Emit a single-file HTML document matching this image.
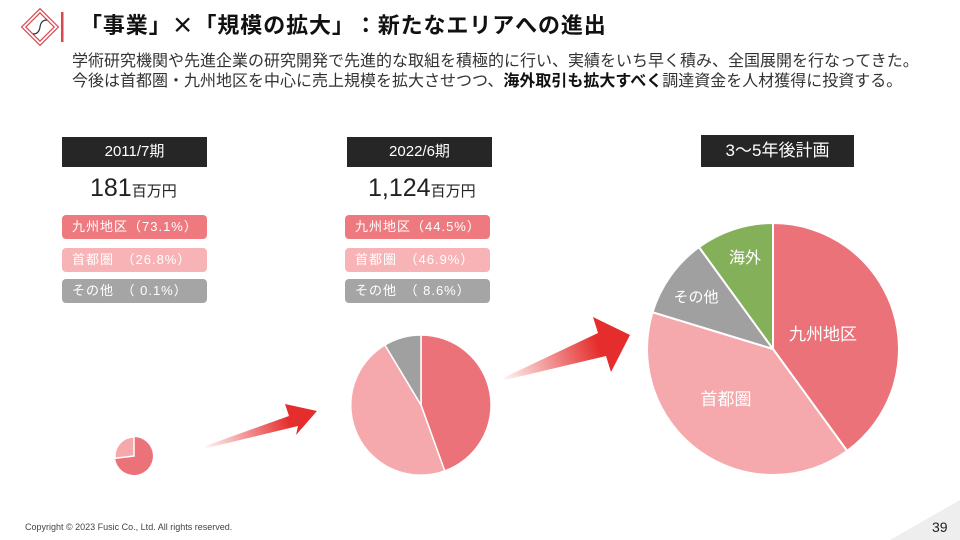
<!DOCTYPE html>
<html><head><meta charset="utf-8"><style>
body{margin:0;width:960px;height:540px;background:#fff;position:relative;overflow:hidden;font-family:"Liberation Sans","Noto Sans CJK JP",sans-serif;}
.a{position:absolute;white-space:nowrap}
.head{position:absolute;background:#262626;color:#fff;text-align:center;font-size:15px;line-height:30px;height:30px}
.pill{position:absolute;width:145px;height:24px;border-radius:4px;color:#fff;font-size:13px;line-height:24px;padding-left:10px;box-sizing:border-box;letter-spacing:1px}
.k{background:#ee7a80}.s{background:#f7b3b6}.o{background:#a5a5a5}
.amt{position:absolute;font-size:25px;color:#222}
.amt span{font-size:15px}
</style></head><body>
<svg class="a" style="left:0;top:0" width="960" height="540">
<g transform="translate(40,27) rotate(45)" fill="none" stroke="#d9474f" stroke-width="1.2"><rect x="-10" y="-10" width="20" height="20"/><rect x="-13" y="-13" width="26" height="26"/></g>
<path d="M33 34 q6 0 7-7 q1-7 7-7" stroke="#333" fill="none" stroke-width="1.2"/>
<rect x="61" y="12" width="2.5" height="30" fill="#d9474f"/>
<polygon points="890,540 960,500 960,540" fill="#eee"/>
<path d="M134 456 L134 437 A19 19 0 1 1 115.1 458.3 Z" fill="#ec7279"/>
<path d="M134 456 L115.1 458.3 A19 19 0 0 1 134 437 Z" fill="#f5a9ad" stroke="#fff" stroke-width="1.5"/>
<path d="M421 405 L421 335 A70 70 0 0 1 444.7 470.9 Z" fill="#ec7279" stroke="#fff" stroke-width="1.5"/>
<path d="M421 405 L444.7 470.9 A70 70 0 0 1 384.9 345 Z" fill="#f5a9ad" stroke="#fff" stroke-width="1.5"/>
<path d="M421 405 L384.9 345 A70 70 0 0 1 421 335 Z" fill="#a0a0a0" stroke="#fff" stroke-width="1.5"/>
<path d="M773 349 L773 223 A126 126 0 0 1 847.1 450.9 Z" fill="#ec7279" stroke="#fff" stroke-width="2"/>
<path d="M773 349 L847.1 450.9 A126 126 0 0 1 652.5 312.2 Z" fill="#f5a9ad" stroke="#fff" stroke-width="2"/>
<path d="M773 349 L652.5 312.2 A126 126 0 0 1 699 247.1 Z" fill="#a0a0a0" stroke="#fff" stroke-width="2"/>
<path d="M773 349 L699 247.1 A126 126 0 0 1 773 223 Z" fill="#84b05a" stroke="#fff" stroke-width="2"/>
<defs>
<linearGradient id="g1" x1="205" y1="446" x2="317" y2="411" gradientUnits="userSpaceOnUse"><stop offset="0" stop-color="#e52d2d" stop-opacity="0.05"/><stop offset="0.75" stop-color="#e52d2d"/></linearGradient>
<linearGradient id="g2" x1="503" y1="378" x2="630" y2="335" gradientUnits="userSpaceOnUse"><stop offset="0" stop-color="#e52d2d" stop-opacity="0.05"/><stop offset="0.75" stop-color="#e52d2d"/></linearGradient>
</defs>
<polygon points="205,446 289,416 285,404 317,411 296,435 298,426 207,448" fill="url(#g1)"/>
<polygon points="503,378 598,333 593,317 630,335 611,372 606,356 505,380" fill="url(#g2)"/>
<text x="823" y="340" font-size="17" fill="#fff" text-anchor="middle" font-family="Liberation Sans, Noto Sans CJK JP, sans-serif">九州地区</text>
<text x="726" y="405" font-size="17" fill="#fff" text-anchor="middle" font-family="Liberation Sans, Noto Sans CJK JP, sans-serif">首都圏</text>
<text x="696" y="302" font-size="15" fill="#fff" text-anchor="middle" font-family="Liberation Sans, Noto Sans CJK JP, sans-serif">その他</text>
<text x="745" y="263" font-size="16" fill="#fff" text-anchor="middle" font-family="Liberation Sans, Noto Sans CJK JP, sans-serif">海外</text>
</svg>
<div class="a" style="left:80px;top:8px;font-size:22px;font-weight:bold;color:#111;font-family:'Noto Sans CJK JP',sans-serif;text-spacing-trim:space-all;letter-spacing:0.9px">「事業」×「規模の拡大」：新たなエリアへの進出</div>
<div class="a" style="left:72px;top:49px;font-size:16px;line-height:20px;color:#333;font-family:'Noto Sans CJK JP',sans-serif">学術研究機関や先進企業の研究開発で先進的な取組を積極的に行い、実績をいち早く積み、全国展開を行なってきた。<br>今後は首都圏・九州地区を中心に売上規模を拡大させつつ、<b style="color:#111">海外取引も拡大すべく</b>調達資金を人材獲得に投資する。</div>
<div class="head" style="left:62px;top:137px;width:145px">2011/7期</div>
<div class="head" style="left:347px;top:137px;width:145px">2022/6期</div>
<div class="head" style="left:701px;top:135px;width:153px;height:32px;line-height:32px;font-size:17px">3～5年後計画</div>
<div class="amt" style="left:90px;top:174px">181<span>百万円</span></div>
<div class="amt" style="left:368px;top:174px">1,124<span>百万円</span></div>
<div class="pill k" style="left:62px;top:215px">九州地区（73.1%）</div>
<div class="pill s" style="left:62px;top:248px">首都圏　（26.8%）</div>
<div class="pill o" style="left:62px;top:279px">その他　（ 0.1%）</div>
<div class="pill k" style="left:345px;top:215px">九州地区（44.5%）</div>
<div class="pill s" style="left:345px;top:248px">首都圏　（46.9%）</div>
<div class="pill o" style="left:345px;top:279px">その他　（ 8.6%）</div>
<div class="a" style="left:25px;top:522px;font-size:9px;color:#444">Copyright © 2023 Fusic Co., Ltd. All rights reserved.</div>
<div class="a" style="left:932px;top:519px;font-size:14px;color:#222">39</div>
</body></html>
